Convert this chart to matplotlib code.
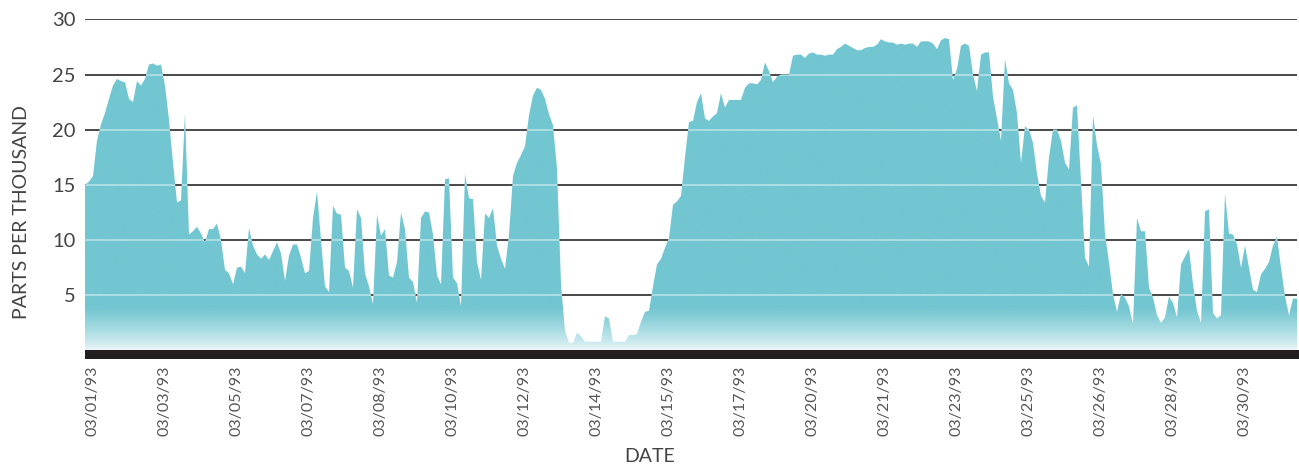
import numpy as np
import matplotlib
matplotlib.use("Agg")
import matplotlib.pyplot as plt
from matplotlib.patches import Rectangle

# salinity readings, one every ~4 px of the original time axis
ppt = [
    15.0, 15.3, 15.8, 19.0, 20.5, 21.5, 22.8, 24.0, 24.6, 24.4,
    24.3, 22.8, 22.5, 24.4, 24.0, 24.6, 25.9, 26.0, 25.8, 25.9,
    24.0, 20.9, 17.0, 13.4, 13.6, 21.5, 10.5, 10.8, 11.2, 10.6,
    9.8, 11.0, 11.0, 11.5, 10.0, 7.3, 7.0, 6.0, 7.5, 7.6,
    7.0, 11.1, 9.5, 8.7,
    8.3, 8.7, 8.2, 9.0, 9.8, 8.8, 6.3, 8.6, 9.6, 9.6,
    8.4, 7.0, 7.2, 12.0, 14.4, 10.0, 5.8, 5.3, 13.1, 12.4,
    12.3, 7.5, 7.2, 5.7, 12.8, 12.0, 7.0, 5.8, 4.2, 12.3,
    10.4, 11.0, 6.8, 6.6, 8.0, 12.5, 11.0, 6.6, 6.2, 4.3,
    12.0, 12.6, 12.5,
    10.5, 6.8, 6.0, 15.5, 15.6, 6.6, 6.1, 4.0, 16.0, 13.8,
    13.7, 8.0, 6.4, 12.4, 12.0, 12.9, 9.5, 8.3, 7.4, 10.5,
    15.8, 17.0, 17.7, 18.5, 21.3, 23.1, 23.8, 23.6, 22.8, 21.4,
    20.4, 16.5, 6.0, 1.8, 0.7, 0.7, 1.6, 1.3, 0.8, 0.8,
    0.8, 0.8, 0.8, 3.1,
    2.9, 0.8, 0.8, 0.8, 0.8, 1.4, 1.4, 1.5, 2.6, 3.5,
    3.6, 5.8, 7.8, 8.3, 9.3, 10.2, 13.2, 13.5, 14.0, 17.5,
    20.7, 20.8, 22.5, 23.3, 21.0, 20.8, 21.2, 21.5, 23.3, 22.0,
    22.7, 22.7, 22.7, 22.7, 23.8, 24.2, 24.2, 24.1, 24.5, 26.1,
    25.3, 24.3, 24.8,
    25.0, 25.0, 25.0, 26.7, 26.8, 26.8, 26.5, 26.9, 27.0, 26.8,
    26.8, 26.7, 26.8, 26.8, 27.3, 27.5, 27.8, 27.6, 27.4, 27.2,
    27.2, 27.4, 27.5, 27.5, 27.7, 28.2, 28.0, 27.9, 27.9, 27.7,
    27.8, 27.7, 27.8, 27.8, 27.5, 28.0, 28.0, 28.0, 27.8, 27.3,
    28.1, 28.3, 28.2, 24.5,
    25.5, 27.6, 27.8, 27.6, 25.0, 23.5, 26.8, 27.0, 27.0, 23.0,
    21.0, 19.0, 26.4, 24.2, 23.6, 21.5, 17.0, 20.3, 20.0, 18.8,
    16.0, 14.0, 13.4, 17.5, 20.0, 20.0, 19.0, 17.0, 16.4, 22.0,
    22.2, 15.3, 8.4, 7.6, 21.3, 18.6, 16.9, 10.5, 8.0, 5.1,
    3.5, 5.1, 4.8,
    4.0, 2.4, 12.0, 10.8, 10.8, 5.7, 4.8, 3.2, 2.5, 3.0,
    4.9, 4.3, 3.0, 7.8, 8.5, 9.2, 6.0, 3.6, 2.5, 12.6,
    12.8, 3.4, 2.9, 3.2, 14.2, 10.6, 10.5, 9.6, 7.5, 9.5,
    7.5, 5.5, 5.3, 6.9, 7.4, 8.0, 9.5, 10.3, 7.5, 4.9,
    3.2, 4.7, 4.7,
]
date_labels = ["03/01/93", "03/03/93", "03/05/93", "03/07/93", "03/08/93", "03/10/93",
               "03/12/93", "03/14/93", "03/15/93", "03/17/93", "03/20/93", "03/21/93",
               "03/23/93", "03/25/93", "03/26/93", "03/28/93", "03/30/93"]
date_idx = [2 + 18 * k for k in range(len(date_labels))]
grid_vals = [5, 10, 15, 20, 25, 30]

plt.rcParams["font.family"] = ["Lato", "DejaVu Sans"]
W, H = 1299, 468
fig = plt.figure(figsize=(W / 100, H / 100), dpi=100)
ax = fig.add_axes([85 / W, 117.5 / H, (1297 - 85) / W, 331.2 / H])

x = np.arange(len(ppt))
y = np.array(ppt)

# dark grid behind the area
for g in grid_vals:
    ax.axhline(g, color="#3a3a3a", lw=1.3, zorder=1)

poly = ax.fill_between(x, y, 0, color="none", lw=0, zorder=2)
path = poly.get_paths()[0]

# vertical gradient: solid teal, fading to pale near the base
top = np.array([114, 198, 209]) / 255
bot = np.array([236, 247, 249]) / 255
lev = np.linspace(0, 30, 600)
t = np.clip(lev / 3.8, 0, 1)[:, None] ** 0.8
img = (bot + (top - bot) * t)[:, None, :]
im = ax.imshow(img, extent=[0, x[-1], 0, 30], origin="lower", aspect="auto",
               interpolation="bilinear", zorder=2)
im.set_clip_path(path, ax.transData)

# light grid seen through the area
for g in grid_vals:
    ln = ax.axhline(g, color="white", lw=1.3, alpha=0.45, zorder=3)
    ln.set_clip_path(path, ax.transData)

ax.set_xlim(0, x[-1])
ax.set_ylim(0, 30)
for s in ax.spines.values():
    s.set_visible(False)

ax.set_yticks(grid_vals, [str(g) for g in grid_vals])
ax.tick_params(axis="y", length=0, pad=7, labelsize=14.5, labelcolor="#444444")
ax.set_xticks(date_idx, date_labels, rotation=90)
ax.tick_params(axis="x", length=0, pad=11, labelsize=11.5, labelcolor="#555555")

# thick black base bar
fig.add_artist(Rectangle((85 / W, (H - 359) / H), (W - 85) / W, 9 / H,
                         transform=fig.transFigure, color="#231f20", lw=0))

fig.text(22 / W, 1 - 212 / H, "PARTS PER THOUSAND", rotation=90, ha="center",
         va="center", fontsize=14, color="#444444")
fig.text(650 / W, 1 - 456 / H, "DATE", ha="center", va="center", fontsize=14,
         color="#444444")

fig.savefig("out.png", dpi=100)
